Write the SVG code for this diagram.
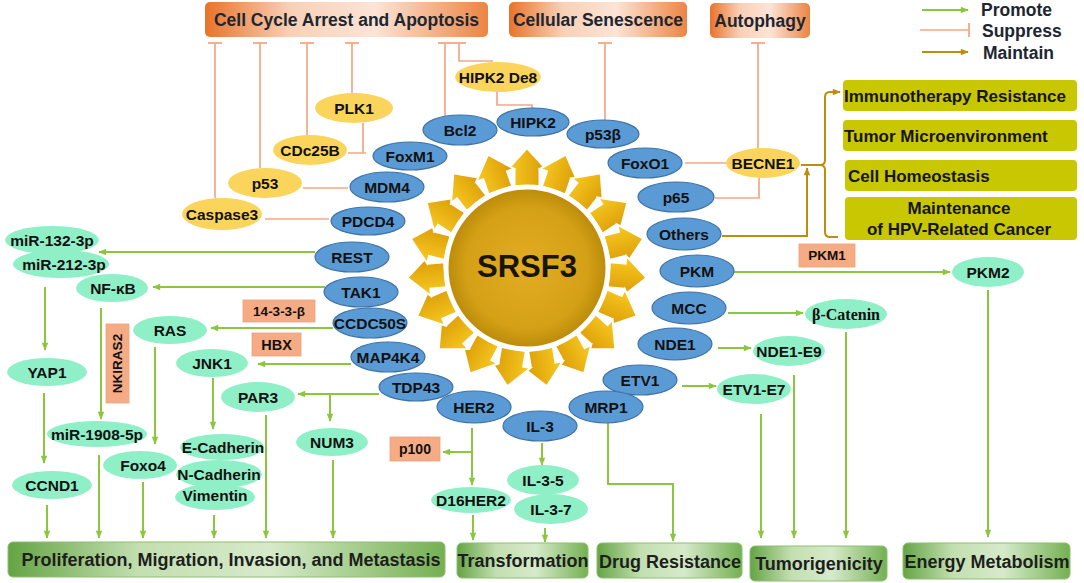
<svg xmlns="http://www.w3.org/2000/svg" xmlns:xlink="http://www.w3.org/1999/xlink" width="1084" height="583" viewBox="0 0 1084 583">
<defs>
<style>
.t{font-family:"Liberation Sans",Arial,sans-serif;font-weight:bold;text-anchor:middle;dominant-baseline:central;fill:#111}
.s{text-anchor:start}
.n{font-size:15.5px}
.h{font-size:17.5px;fill:#1e2630}
.o{font-size:17px;fill:#151515}
.b{font-size:18px;fill:#1e1e1e}
.l{font-size:13.5px}
.blue{fill:#5b9bd5;stroke:#3f72a6;stroke-width:1.2}
.yel{fill:#fbd45c}
.mint{fill:#8ff0c8}
.lab{fill:#f5ab84;stroke:#eea27a;stroke-width:0.8}
.top{fill:url(#gTop)}
.oli{fill:#c9c702}
.bot{fill:url(#gBot);stroke:#8dbf70;stroke-width:1}
.g{fill:none;stroke:#8cc63f;stroke-width:2;marker-end:url(#ag)}
.r{fill:none;stroke:#f5a784;stroke-width:1.7}
.rt{fill:none;stroke:#f5a784;stroke-width:1.7;marker-end:url(#tk)}
.br{fill:none;stroke:#bd8e0e;stroke-width:2}
.bra{fill:none;stroke:#bd8e0e;stroke-width:2;marker-end:url(#ab)}
</style>
<marker id="ag" viewBox="0 0 10 10" refX="9" refY="5" markerWidth="9" markerHeight="8" markerUnits="userSpaceOnUse" orient="auto"><path d="M0,1 L10,5 L0,9 z" fill="#8cc63f"/></marker>
<marker id="ab" viewBox="0 0 10 10" refX="9" refY="5" markerWidth="9" markerHeight="8" markerUnits="userSpaceOnUse" orient="auto"><path d="M0,1 L10,5 L0,9 z" fill="#bd8e0e"/></marker>
<marker id="tk" viewBox="-1 -7 2 14" refX="0" refY="0" markerWidth="2" markerHeight="14" markerUnits="userSpaceOnUse" orient="auto"><path d="M0,-7 V7" stroke="#f5a784" stroke-width="1.8"/></marker>
<linearGradient id="gTop" x1="0" y1="0" x2="1" y2="0">
<stop offset="0" stop-color="#e8732b"/><stop offset="0.3" stop-color="#f9d0b6"/><stop offset="0.6" stop-color="#fce4d6"/><stop offset="1" stop-color="#ec8443"/>
</linearGradient>
<linearGradient id="gBot" x1="0" y1="0" x2="1" y2="0">
<stop offset="0" stop-color="#64a444"/><stop offset="0.3" stop-color="#c3dfb0"/><stop offset="0.6" stop-color="#d6eaca"/><stop offset="1" stop-color="#74b052"/>
</linearGradient>
<linearGradient id="gArr" x1="0" y1="0" x2="1" y2="0">
<stop offset="0" stop-color="#f9cb22"/><stop offset="1" stop-color="#d99a06"/>
</linearGradient>
<radialGradient id="gSun" cx="0.5" cy="0.5" r="0.5">
<stop offset="0" stop-color="#e2ad22"/><stop offset="0.75" stop-color="#d4a015"/><stop offset="1" stop-color="#b98a0a"/>
</radialGradient>
<path id="arr" d="M-12.5,-82 L-12.5,-98 L-20,-98 L0,-120 L20,-98 L12.5,-98 L12.5,-82 Z" fill="url(#gArr)" stroke="#fff" stroke-width="2"/>
</defs>
<rect width="1084" height="583" fill="#fff"/>

<!-- Top outcome boxes -->
<g id="cellcycle"><rect class="top" x="205" y="2" width="283" height="35" rx="5"/><text class="t h" x="346.5" y="19.5">Cell Cycle Arrest and Apoptosis</text></g>
<g id="senescence"><rect class="top" x="509" y="2" width="178" height="35" rx="5"/><text class="t h" x="598" y="19.5">Cellular Senescence</text></g>
<g id="autophagy"><rect class="top" x="710" y="3" width="100" height="35" rx="5"/><text class="t h" x="760" y="20.5">Autophagy</text></g>

<!-- Legend -->
<g id="legend">
<path class="g" d="M922 10 H968"/><text class="t h s" x="981" y="10">Promote</text>
<path class="rt" d="M920 30 H969"/><text class="t h s" x="982" y="31">Suppress</text>
<path class="bra" d="M922 52 H968"/><text class="t h s" x="983" y="53">Maintain</text>
</g>

<!-- Right olive boxes -->
<g id="immuno"><rect class="oli" x="843" y="80" width="234" height="31" rx="4"/><text class="t o s" x="844" y="96">Immunotherapy Resistance</text></g>
<g id="tme"><rect class="oli" x="843" y="120" width="234" height="31" rx="4"/><text class="t o s" x="844" y="136">Tumor Microenvironment</text></g>
<g id="homeo"><rect class="oli" x="845" y="160" width="232" height="31" rx="4"/><text class="t o s" x="848" y="176">Cell Homeostasis</text></g>
<g id="hpv"><rect class="oli" x="845" y="197" width="232" height="43" rx="4"/><text class="t o" x="959" y="208">Maintenance</text><text class="t o" x="959" y="229">of HPV-Related Cancer</text></g>

<!-- Bottom outcome boxes -->
<g id="prolif"><rect class="bot" x="8" y="542" width="437" height="35" rx="5"/><text class="t b" x="231" y="560">Proliferation, Migration, Invasion, and Metastasis</text></g>
<g id="transf"><rect class="bot" x="457" y="543" width="131" height="35" rx="5"/><text class="t b" x="523" y="561">Transformation</text></g>
<g id="drug"><rect class="bot" x="597" y="543" width="145" height="35" rx="5"/><text class="t b" x="670" y="562">Drug Resistance</text></g>
<g id="tumori"><rect class="bot" x="750" y="546" width="137" height="35" rx="5"/><text class="t b" x="819" y="564">Tumorigenicity</text></g>
<g id="energy"><rect class="bot" x="903" y="543" width="167" height="36" rx="5"/><text class="t b" x="987" y="562">Energy Metabolism</text></g>

<!-- Connectors -->
<g id="connectors">
<path class="rt" d="M215 198 V43"/>
<path class="rt" d="M260 168 V43"/>
<path class="rt" d="M307 135 V43"/>
<path class="rt" d="M352 93 V43"/>
<path class="rt" d="M445 116 V43"/>
<path class="rt" d="M493 61 H459 V43"/>
<path class="r" d="M497 92 V105 H532 V108"/>
<path class="rt" d="M605 120 V43"/>
<path class="rt" d="M758 148 V43"/>
<path class="r" d="M363 123 V153 M348 153 H366"/>
<path class="r" d="M303 188 H348"/>
<path class="r" d="M265 219 H329"/>
<path class="r" d="M685 163 H726"/>
<path class="r" d="M715 198 H759 V178"/>
<path class="bra" d="M801 165 H820 Q825 165 825 160 V97 Q825 92 830 92 H840"/>
<path class="br" d="M820 165 Q825 165 825 170 V232 Q825 237 830 237 H838"/>
<path class="bra" d="M722 236 H807 V168"/>
<path class="g" d="M315 252 H99"/>
<path class="g" d="M325 287 H153"/>
<path class="g" d="M333 328 H211"/>
<path class="g" d="M351 364 H258"/>
<path class="g" d="M379 394 H298"/>
<path class="g" d="M330 394 V421"/>
<path class="g" d="M45 287 V350"/>
<path class="g" d="M44 393 V463"/>
<path class="g" d="M47 505 V538"/>
<path class="g" d="M101 308 V419"/>
<path class="g" d="M99 455 V538"/>
<path class="g" d="M155 347 V444"/>
<path class="g" d="M143 482 V538"/>
<path class="g" d="M213 378 V429"/>
<path class="g" d="M214 515 V538"/>
<path class="g" d="M266 415 V538"/>
<path class="g" d="M333 460 V538"/>
<path class="g" d="M472 428 V485"/>
<path class="g" d="M472 452 H443"/>
<path class="g" d="M473 515 V540"/>
<path class="g" d="M542 443 V465"/>
<path class="g" d="M545 528 V542"/>
<path class="g" d="M608 423 V484 H673 V541"/>
<path class="g" d="M734 272 H950"/>
<path class="g" d="M988 290 V537"/>
<path class="g" d="M728 313 H803"/>
<path class="g" d="M846 332 V538"/>
<path class="g" d="M718 348 H751"/>
<path class="g" d="M794 375 V538"/>
<path class="g" d="M682 386 H716"/>
<path class="g" d="M761 414 V538"/>
</g>

<!-- Central SRSF3 -->
<g id="srsf3">
<use xlink:href="#arr" href="#arr" transform="translate(527 268) rotate(0)"/>
<use xlink:href="#arr" href="#arr" transform="translate(527 268) rotate(18.947)"/>
<use xlink:href="#arr" href="#arr" transform="translate(527 268) rotate(37.895)"/>
<use xlink:href="#arr" href="#arr" transform="translate(527 268) rotate(56.842)"/>
<use xlink:href="#arr" href="#arr" transform="translate(527 268) rotate(75.789)"/>
<use xlink:href="#arr" href="#arr" transform="translate(527 268) rotate(94.737)"/>
<use xlink:href="#arr" href="#arr" transform="translate(527 268) rotate(113.684)"/>
<use xlink:href="#arr" href="#arr" transform="translate(527 268) rotate(132.632)"/>
<use xlink:href="#arr" href="#arr" transform="translate(527 268) rotate(151.579)"/>
<use xlink:href="#arr" href="#arr" transform="translate(527 268) rotate(170.526)"/>
<use xlink:href="#arr" href="#arr" transform="translate(527 268) rotate(189.474)"/>
<use xlink:href="#arr" href="#arr" transform="translate(527 268) rotate(208.421)"/>
<use xlink:href="#arr" href="#arr" transform="translate(527 268) rotate(227.368)"/>
<use xlink:href="#arr" href="#arr" transform="translate(527 268) rotate(246.316)"/>
<use xlink:href="#arr" href="#arr" transform="translate(527 268) rotate(265.263)"/>
<use xlink:href="#arr" href="#arr" transform="translate(527 268) rotate(284.211)"/>
<use xlink:href="#arr" href="#arr" transform="translate(527 268) rotate(303.158)"/>
<use xlink:href="#arr" href="#arr" transform="translate(527 268) rotate(322.105)"/>
<use xlink:href="#arr" href="#arr" transform="translate(527 268) rotate(341.053)"/>
<circle cx="527" cy="268" r="81" fill="url(#gSun)" stroke="#fff" stroke-width="5"/>
<text class="t" x="527" y="266" style="font-size:31px;fill:#1a1408">SRSF3</text>
</g>

<!-- Blue nodes -->
<g id="bcl2"><ellipse class="blue" cx="460" cy="130" rx="37" ry="15"/><text class="t n" x="460" y="130">Bcl2</text></g>
<g id="hipk2"><ellipse class="blue" cx="533" cy="122" rx="36" ry="14"/><text class="t n" x="533" y="122">HIPK2</text></g>
<g id="p53b"><ellipse class="blue" cx="603" cy="134" rx="36" ry="14"/><text class="t n" x="603" y="134">p53β</text></g>
<g id="foxo1"><ellipse class="blue" cx="645" cy="163" rx="37" ry="15"/><text class="t n" x="645" y="163">FoxO1</text></g>
<g id="p65"><ellipse class="blue" cx="676" cy="197" rx="38" ry="15"/><text class="t n" x="676" y="197">p65</text></g>
<g id="others"><ellipse class="blue" cx="684" cy="234" rx="37" ry="16"/><text class="t n" x="684" y="234">Others</text></g>
<g id="pkm"><ellipse class="blue" cx="697" cy="271" rx="37" ry="16"/><text class="t n" x="697" y="271">PKM</text></g>
<g id="mcc"><ellipse class="blue" cx="689" cy="308" rx="37" ry="16"/><text class="t n" x="689" y="308">MCC</text></g>
<g id="nde1"><ellipse class="blue" cx="675" cy="344" rx="37" ry="16"/><text class="t n" x="675" y="344">NDE1</text></g>
<g id="etv1"><ellipse class="blue" cx="640" cy="380" rx="37" ry="15"/><text class="t n" x="640" y="380">ETV1</text></g>
<g id="mrp1"><ellipse class="blue" cx="606" cy="407" rx="37" ry="16"/><text class="t n" x="606" y="407">MRP1</text></g>
<g id="her2"><ellipse class="blue" cx="474" cy="407" rx="37" ry="16"/><text class="t n" x="474" y="407">HER2</text></g>
<g id="il3"><ellipse class="blue" cx="540" cy="426" rx="37" ry="15"/><text class="t n" x="540" y="426">IL-3</text></g>
<g id="tdp43"><ellipse class="blue" cx="416" cy="387" rx="37" ry="14"/><text class="t n" x="416" y="387">TDP43</text></g>
<g id="map4k4"><ellipse class="blue" cx="388" cy="357" rx="37" ry="15"/><text class="t n" x="388" y="357">MAP4K4</text></g>
<g id="ccdc50s"><ellipse class="blue" cx="370" cy="323" rx="37" ry="15"/><text class="t n" x="370" y="323">CCDC50S</text></g>
<g id="tak1"><ellipse class="blue" cx="361" cy="292" rx="37" ry="15"/><text class="t n" x="361" y="292">TAK1</text></g>
<g id="rest"><ellipse class="blue" cx="352" cy="257" rx="37" ry="15"/><text class="t n" x="352" y="257">REST</text></g>
<g id="pdcd4"><ellipse class="blue" cx="368" cy="221" rx="37" ry="14"/><text class="t n" x="368" y="221">PDCD4</text></g>
<g id="mdm4"><ellipse class="blue" cx="387" cy="187" rx="37" ry="15"/><text class="t n" x="387" y="187">MDM4</text></g>
<g id="foxm1"><ellipse class="blue" cx="410" cy="156" rx="37" ry="14"/><text class="t n" x="410" y="156">FoxM1</text></g>

<!-- Yellow nodes -->
<g id="plk1"><ellipse class="yel" cx="354" cy="108" rx="39" ry="15"/><text class="t n" x="354" y="108">PLK1</text></g>
<g id="cdc25b"><ellipse class="yel" cx="310" cy="150" rx="37" ry="15"/><text class="t n" x="310" y="150">CDc25B</text></g>
<g id="p53"><ellipse class="yel" cx="265" cy="183" rx="37" ry="15"/><text class="t n" x="265" y="183">p53</text></g>
<g id="caspase3"><ellipse class="yel" cx="222" cy="214" rx="40" ry="16"/><text class="t n" x="222" y="214">Caspase3</text></g>
<g id="hipk2de8"><ellipse class="yel" cx="498" cy="77" rx="43" ry="15"/><text class="t n" x="498" y="77">HIPK2 De8</text></g>
<g id="becne1"><ellipse class="yel" cx="763" cy="163" rx="37" ry="15"/><text class="t n" x="763" y="163">BECNE1</text></g>

<!-- Mint nodes -->
<g id="mir132"><ellipse class="mint" cx="52" cy="240" rx="47" ry="14"/><text class="t n" x="52" y="240">miR-132-3p</text></g>
<g id="mir212"><ellipse class="mint" cx="61" cy="264" rx="48" ry="14"/><text class="t n" x="64" y="264">miR-212-3p</text></g>
<g id="nfkb"><ellipse class="mint" cx="112" cy="288" rx="36" ry="14"/><text class="t n" x="113" y="288">NF-κB</text></g>
<g id="yap1"><ellipse class="mint" cx="47" cy="372" rx="40" ry="14"/><text class="t n" x="47" y="372">YAP1</text></g>
<g id="ras"><ellipse class="mint" cx="170" cy="330" rx="37" ry="14"/><text class="t n" x="170" y="330">RAS</text></g>
<g id="jnk1"><ellipse class="mint" cx="212" cy="363" rx="36" ry="14"/><text class="t n" x="212" y="363">JNK1</text></g>
<g id="par3"><ellipse class="mint" cx="258" cy="397" rx="37" ry="15"/><text class="t n" x="258" y="397">PAR3</text></g>
<g id="num3"><ellipse class="mint" cx="332" cy="442" rx="36" ry="14"/><text class="t n" x="332" y="442">NUM3</text></g>
<g id="mir1908"><ellipse class="mint" cx="97" cy="434" rx="50" ry="13"/><text class="t n" x="97" y="434">miR-1908-5p</text></g>
<g id="foxo4"><ellipse class="mint" cx="140" cy="465" rx="37" ry="14"/><text class="t n" x="143" y="465">Foxo4</text></g>
<g id="ccnd1"><ellipse class="mint" cx="52" cy="485" rx="40" ry="14"/><text class="t n" x="52" y="485">CCND1</text></g>
<g id="ecad"><ellipse class="mint" cx="222" cy="447" rx="42" ry="13"/><text class="t n" x="223" y="447">E-Cadherin</text></g>
<g id="ncad"><ellipse class="mint" cx="219" cy="474" rx="43" ry="14"/><text class="t n" x="219" y="474">N-Cadherin</text></g>
<g id="vim"><ellipse class="mint" cx="215" cy="497" rx="40" ry="13"/><text class="t n" x="215" y="495">Vimentin</text></g>
<g id="d16her2"><ellipse class="mint" cx="471" cy="500" rx="40" ry="13"/><text class="t n" x="471" y="500">D16HER2</text></g>
<g id="il35"><ellipse class="mint" cx="543" cy="480" rx="36" ry="15"/><text class="t n" x="543" y="480">IL-3-5</text></g>
<g id="il37"><ellipse class="mint" cx="551" cy="509" rx="37" ry="15"/><text class="t n" x="551" y="509">IL-3-7</text></g>
<g id="pkm2"><ellipse class="mint" cx="988" cy="272" rx="36" ry="15"/><text class="t n" x="988" y="272">PKM2</text></g>
<g id="bcat"><ellipse class="mint" cx="846" cy="314" rx="41" ry="15"/><text class="t" x="846" y="314" style="font-family:'Liberation Serif','Times New Roman',serif;font-size:16px">β-Catenin</text></g>
<g id="nde1e9"><ellipse class="mint" cx="789" cy="351" rx="36" ry="15"/><text class="t n" x="789" y="351">NDE1-E9</text></g>
<g id="etv1e7"><ellipse class="mint" cx="754" cy="389" rx="37" ry="15"/><text class="t n" x="754" y="389">ETV1-E7</text></g>

<!-- Orange labels -->
<g id="l14333b"><rect class="lab" x="243" y="300" width="72" height="22"/><text class="t l" x="279" y="311">14-3-3-β</text></g>
<g id="lhbx"><rect class="lab" x="252" y="333" width="49" height="23"/><text class="t l" x="276.5" y="344.5" style="font-size:14.5px">HBX</text></g>
<g id="lnkiras2"><rect class="lab" x="106" y="324" width="23" height="79"/><text class="t l" x="0" y="0" transform="translate(117.5 363.5) rotate(-90)">NKIRAS2</text></g>
<g id="lp100"><rect class="lab" x="390" y="437" width="50" height="24"/><text class="t l" x="415" y="449" style="font-size:14px">p100</text></g>
<g id="lpkm1"><rect class="lab" x="799" y="244" width="56" height="23"/><text class="t l" x="827" y="255.5">PKM1</text></g>
</svg>
